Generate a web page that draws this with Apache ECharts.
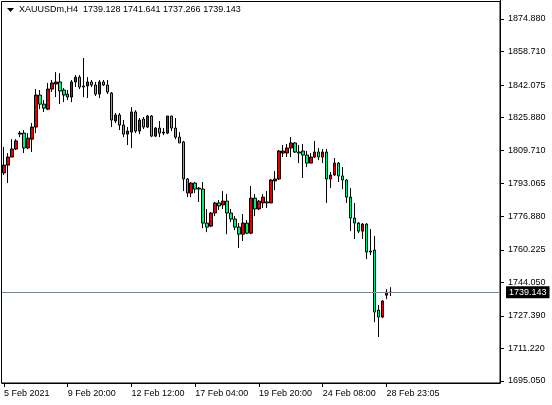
<!DOCTYPE html>
<html>
<head>
<meta charset="utf-8">
<script src="https://cdn.jsdelivr.net/npm/echarts@6/dist/echarts.min.js"></script>
<style>
  html, body { margin: 0; padding: 0; background: #fff; }
  #main { width: 552px; height: 405px; }
</style>
</head>
<body>
<div id="main"></div>
<script>
// H4 bars, each row: [open, close, low, high]
var candles = [
  [1798.4,1802.3,1797.4,1811.3],[1802.3,1806.3,1793.4,1808.3],[1806.3,1810.3,1806.3,1815.2],
  [1810.3,1814.3,1809.8,1815.2],[1817.7,1818.2,1816.2,1819.2],[1818.2,1810.8,1808.3,1819.7],
  [1810.8,1815.7,1810.3,1818.2],[1815.2,1821.2,1808.8,1823.2],[1821.2,1837.1,1818.2,1840.1],
  [1837.1,1832.6,1830.1,1839.6],[1832.6,1830.6,1828.7,1834.6],[1830.1,1840.1,1829.6,1843.1],
  [1840.1,1843.1,1838.6,1844.6],[1842.6,1843.6,1836.1,1848.5],[1843.6,1839.1,1832.6,1848.0],
  [1839.6,1837.1,1833.6,1840.6],[1837.6,1836.1,1834.6,1839.6],[1836.1,1843.6,1833.6,1844.6],
  [1843.6,1846.0,1841.1,1847.0],[1846.0,1841.1,1840.1,1847.0],[1841.6,1841.1,1836.1,1855.5],
  [1841.6,1843.6,1835.6,1846.0],[1843.6,1842.1,1841.1,1844.6],[1842.1,1837.6,1836.6,1843.6],
  [1837.6,1843.6,1835.6,1844.6],[1843.6,1842.1,1841.6,1844.6],[1842.1,1838.6,1837.6,1844.6],
  [1838.1,1824.7,1821.2,1838.6],[1824.2,1827.2,1823.2,1828.2],[1827.2,1822.2,1819.7,1828.2],
  [1822.2,1817.7,1816.2,1824.7],[1817.7,1819.2,1812.3,1821.2],[1818.7,1828.7,1810.8,1831.1],
  [1828.7,1819.2,1818.2,1829.6],[1819.2,1824.7,1817.7,1825.7],[1825.2,1821.2,1820.2,1826.2],
  [1821.2,1826.7,1820.7,1827.2],[1826.7,1816.7,1816.2,1827.2],[1816.7,1820.7,1816.2,1821.2],
  [1820.7,1818.2,1816.2,1824.2],[1818.2,1818.7,1817.2,1820.7],[1818.2,1826.7,1817.7,1826.7],
  [1826.7,1820.7,1819.2,1826.7],[1820.7,1816.2,1815.2,1825.7],[1816.2,1813.3,1813.3,1818.7],
  [1813.8,1795.4,1789.4,1814.3],[1795.4,1788.4,1786.4,1795.9],[1788.4,1793.4,1786.4,1793.9],
  [1793.4,1790.4,1788.4,1793.9],[1790.9,1790.4,1784.0,1791.4],[1790.4,1773.5,1771.0,1793.9],
  [1773.5,1771.5,1769.0,1780.5],[1772.0,1778.5,1771.5,1779.0],[1778.5,1783.5,1777.0,1784.0],
  [1783.5,1782.0,1780.0,1785.0],[1782.5,1784.4,1780.5,1789.4],[1784.4,1778.5,1768.0,1787.9],
  [1778.5,1775.5,1774.0,1780.5],[1775.5,1771.5,1770.0,1777.0],[1771.5,1768.0,1761.1,1773.5],
  [1768.0,1773.5,1764.6,1778.0],[1773.5,1768.5,1768.0,1775.0],[1768.5,1785.9,1768.0,1791.9],
  [1785.9,1780.5,1777.0,1787.9],[1780.5,1784.4,1780.0,1785.0],[1783.5,1786.4,1781.0,1787.9],
  [1784.0,1783.5,1781.0,1789.4],[1783.5,1794.9,1783.5,1795.4],[1794.4,1795.4,1789.9,1799.3],
  [1795.4,1809.3,1794.9,1809.8],[1808.3,1809.3,1806.3,1812.3],[1808.3,1810.8,1806.3,1812.8],
  [1810.8,1813.3,1806.3,1816.2],[1813.3,1808.8,1808.3,1813.8],[1808.8,1808.3,1803.3,1812.3],
  [1809.3,1807.3,1795.9,1812.8],[1807.3,1803.3,1801.3,1809.3],[1803.3,1806.3,1803.3,1808.3],
  [1806.3,1808.8,1805.8,1814.3],[1808.8,1806.3,1804.8,1810.8],[1806.3,1808.8,1803.3,1810.3],
  [1808.8,1795.4,1783.5,1810.3],[1795.4,1797.4,1790.9,1798.9],[1797.4,1803.3,1796.9,1805.8],
  [1803.3,1796.9,1793.9,1803.8],[1796.9,1794.9,1790.4,1801.3],[1794.9,1786.4,1783.5,1795.4],
  [1786.4,1776.0,1769.5,1790.9],[1776.0,1773.5,1765.6,1783.5],[1773.5,1769.5,1768.5,1774.0],
  [1769.5,1773.0,1765.6,1773.5],[1773.0,1759.1,1755.6,1773.5],[1759.6,1759.1,1757.6,1770.5],
  [1760.1,1729.3,1724.3,1767.1],[1730.3,1726.8,1716.9,1732.8],[1726.8,1734.8,1726.3,1735.3],
  [1737.7,1739.2,1735.7,1740.7],[1739.128,1739.143,1737.266,1741.641]
];
var totalSlots = 125;
var timeLabels = {0: '5 Feb 2021', 16: '9 Feb 20:00', 32: '12 Feb 12:00', 48: '17 Feb 04:00',
  64: '19 Feb 20:00', 80: '24 Feb 08:00', 96: '28 Feb 23:05'};
var priceTicks = [1874.880, 1858.710, 1842.075, 1825.880, 1809.710, 1793.065,
  1776.880, 1760.225, 1744.050, 1727.390, 1711.220, 1695.050];
var lastPrice = 1739.143;
var header = 'XAUUSDm,H4  1739.128 1741.641 1737.266 1739.143';

var categories = [];
for (var i = 0; i < totalSlots; i++) categories.push(timeLabels[i] || '');
var tickIdx = Object.keys(timeLabels).map(Number);
var isTick = function (i) { return tickIdx.indexOf(i) >= 0; };

var font = '"Liberation Sans", Arial, sans-serif';
var chart = echarts.init(document.getElementById('main'));
chart.setOption({
  animation: false,
  backgroundColor: '#fff',
  graphic: [
    {type: 'rect', shape: {x: 1.5, y: 1.5, width: 498.5, height: 381.5}, style: {fill: 'none', stroke: '#000', lineWidth: 1}},
    {type: 'polygon', shape: {points: [[7, 8], [14, 8], [10.5, 12]]}, style: {fill: '#000'}},
    {type: 'text', left: 19, top: 5, style: {text: header, font: '9px ' + font, fill: '#000'}}
  ],
  grid: {left: 2, right: 52, top: 0, bottom: 22, outerBoundsMode: 'none', containLabel: false},
  xAxis: {
    type: 'category', data: categories, boundaryGap: true,
    axisLine: {lineStyle: {color: '#000'}},
    axisTick: {show: true, alignWithLabel: true, length: 4, lineStyle: {color: '#000'}, interval: isTick},
    axisLabel: {interval: isTick, color: '#000', fontSize: 9, fontFamily: font, align: 'left', margin: 6,
      hideOverlap: false},
    splitLine: {show: false}
  },
  yAxis: {
    type: 'value', position: 'right', min: 1694.06, max: 1884.32, scale: true,
    axisLine: {show: true, lineStyle: {color: '#000'}},
    axisTick: {show: true, length: 4, lineStyle: {color: '#000'}, customValues: priceTicks},
    axisLabel: {color: '#000', fontSize: 9, fontFamily: font, margin: 8,
      customValues: priceTicks, formatter: function (v) { return v.toFixed(3); }},
    splitLine: {show: false}
  },
  series: [{
    type: 'candlestick',
    data: candles,
    barWidth: 3,
    itemStyle: {color: '#e00000', color0: '#00f07a', borderColor: '#000', borderColor0: '#000', borderWidth: 1},
    markLine: {
      silent: true, symbol: 'none',
      lineStyle: {color: '#778899', type: 'solid', width: 1},
      label: {position: 'end', formatter: lastPrice.toFixed(3), color: '#fff', backgroundColor: '#000',
        fontSize: 9, fontFamily: font, padding: [2, 3, 1, 3], distance: 6},
      data: [{yAxis: lastPrice}]
    }
  }]
});
</script>
</body>
</html>
